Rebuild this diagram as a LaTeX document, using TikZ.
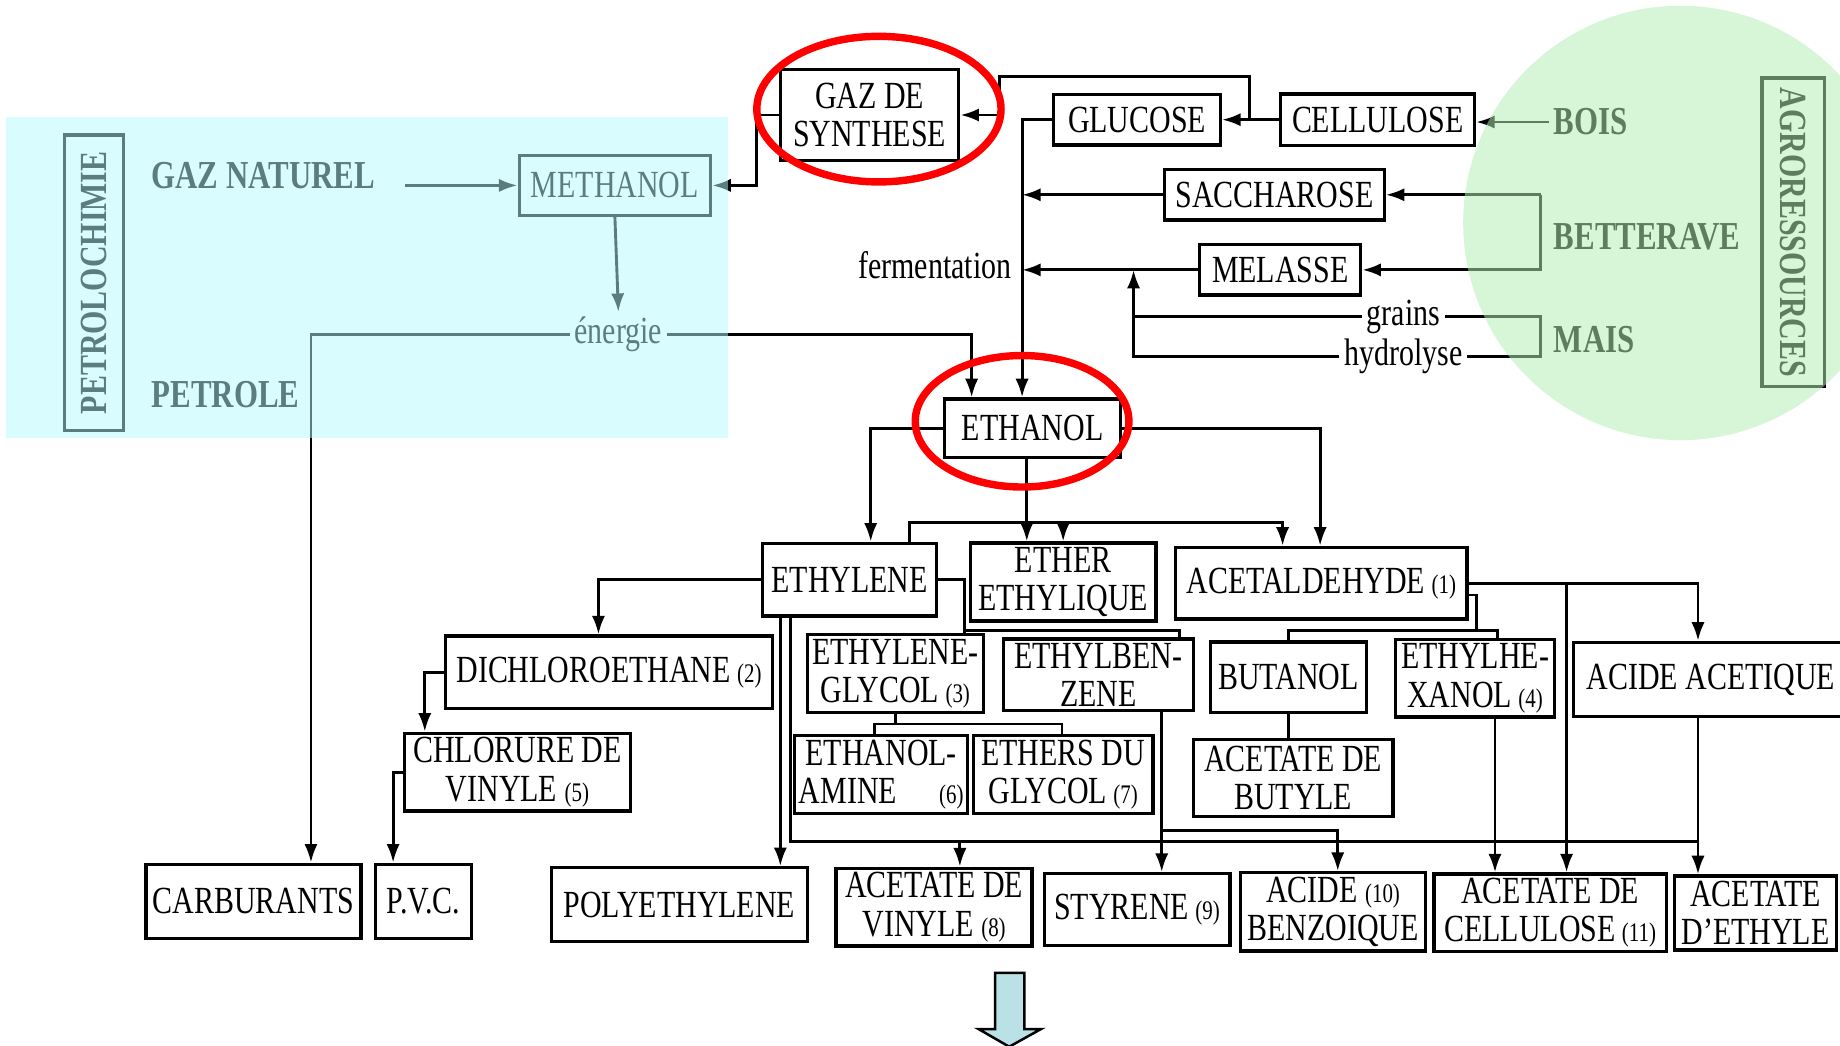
\documentclass[tikz,border=0pt]{standalone}
\usepackage{fontspec}
\setmainfont{Liberation Serif}[FakeStretch=0.78]
\usetikzlibrary{arrows.meta}
\definecolor{petrofill}{RGB}{180,250,255}
\definecolor{agrofill}{RGB}{179,236,179}
\definecolor{arrowblue}{RGB}{185,225,230}
\newcommand{\refnum}[1]{{\fontsize{6.5}{7}\selectfont(#1)}}
\begin{document}
\begin{tikzpicture}[x=0.01cm, y=-0.01cm,
    cbox/.style={draw, line width=0.8pt, align=center, inner sep=1pt, font=\fontsize{9.3}{9.3}\selectfont},
    txt/.style={inner sep=1pt, font=\fontsize{9.3}{9.3}\selectfont},
    srctag/.style={inner sep=1pt, font=\fontsize{9.6}{9.6}\selectfont\bfseries},
    arr/.style={line width=0.7pt, -{Latex[length=4.5pt,width=3.2pt]}},
    link/.style={line width=0.7pt}]
    \useasboundingbox (0,0) rectangle (1568,891);

    % sources
    \node[cbox, rotate=90, minimum width=2.52cm, minimum height=0.5cm] (petro) at (80,241) {\bfseries PETROLOCHIMIE};
    \node[cbox, rotate=-90, minimum width=2.63cm, minimum height=0.53cm] (agro) at (1528,198) {\bfseries AGRORESSOURCES};
    \node[srctag, anchor=west] (gaznat) at (125,150) {GAZ NATUREL};
    \node[srctag, anchor=west] (petrole) at (125,336) {PETROLE};
    \node[srctag, anchor=west] (bois) at (1320,104) {BOIS};
    \node[srctag, anchor=west] (betterave) at (1320,202) {BETTERAVE};
    \node[srctag, anchor=west] (mais) at (1320,289) {MAIS};
    \coordinate (gn) at (345,158);

    % top row
    \node[cbox, minimum width=1.52cm, minimum height=0.77cm] (gds) at (741,98) {GAZ DE\\SYNTHESE};
    \node[cbox, minimum width=1.63cm, minimum height=0.51cm] (methanol) at (524,158) {METHANOL};
    \node[cbox, minimum width=1.42cm, minimum height=0.43cm] (glucose) at (969,102) {GLUCOSE};
    \node[cbox, minimum width=1.65cm, minimum height=0.44cm] (cellulose) at (1174,102) {CELLULOSE};
    \node[cbox, minimum width=1.87cm, minimum height=0.43cm] (saccharose) at (1086,166) {SACCHAROSE};
    \node[cbox, minimum width=1.37cm, minimum height=0.43cm] (melasse) at (1091,230) {MELASSE};
    \node[txt] (energie) at (527,285) {énergie};
    \node[txt, anchor=east] (ferment) at (866,226) {fermentation};
    \node[txt] (grains) at (1196,270) {grains};
    \node[txt] (hydrolyse) at (1196,304) {hydrolyse};
    \node[cbox, minimum width=1.5cm, minimum height=0.5cm] (ethanol) at (880,365) {ETHANOL};

    % first products
    \node[cbox, minimum width=1.48cm, minimum height=0.62cm] (ethylene) at (724,494) {ETHYLENE};
    \node[cbox, minimum width=1.58cm, minimum height=0.62cm] (ether) at (906,496) {ETHER\\ETHYLIQUE};
    \node[cbox, minimum width=2.48cm, minimum height=0.61cm] (acetal) at (1126,497) {ACETALDEHYDE\,\refnum{1}};

    % second products
    \node[cbox, minimum width=2.78cm, minimum height=0.62cm] (dichloro) at (519,573) {DICHLOROETHANE\,\refnum{2}};
    \node[cbox, minimum width=1.5cm, minimum height=0.61cm] (glycol) at (763,574) {ETHYLENE-\\GLYCOL\,\refnum{3}};
    \node[cbox, minimum width=1.62cm, minimum height=0.61cm] (ethylbenz) at (936,575) {ETHYLBEN-\\ZENE};
    \node[cbox, minimum width=1.33cm, minimum height=0.6cm] (butanol) at (1098,577) {BUTANOL};
    \node[cbox, minimum width=1.35cm, minimum height=0.61cm] (ethylhex) at (1257,578) {ETHYLHE-\\XANOL\,\refnum{4}};
    \node[cbox, minimum width=2.34cm, minimum height=0.63cm] (acideacet) at (1458,579) {ACIDE ACETIQUE};

    % third products
    \node[cbox, minimum width=1.92cm, minimum height=0.62cm] (chlorure) at (441,658) {CHLORURE DE\\VINYLE \refnum{5}};
    \node[cbox, minimum width=1.42cm, minimum height=0.64cm] (ethanolamine) at (751,660) {ETHANOL-\\AMINE\hspace{1.1em}\refnum{6}};
    \node[cbox, minimum width=1.53cm, minimum height=0.65cm] (ethersglycol) at (906,660) {ETHERS DU\\GLYCOL\,\refnum{7}};
    \node[cbox, minimum width=1.7cm, minimum height=0.66cm] (acetbutyle) at (1102,663) {ACETATE DE\\BUTYLE};

    % end products
    \node[cbox, minimum width=1.83cm, minimum height=0.63cm] (carburants) at (216,768) {CARBURANTS};
    \node[cbox, minimum width=0.82cm, minimum height=0.63cm] (pvc) at (361,768) {P.V.C.};
    \node[cbox, minimum width=2.18cm, minimum height=0.63cm] (polyeth) at (579,771) {POLYETHYLENE};
    \node[cbox, minimum width=1.67cm, minimum height=0.63cm] (acetvinyle) at (796,773) {ACETATE DE\\VINYLE \refnum{8}};
    \node[cbox, minimum width=1.58cm, minimum height=0.61cm] (styrene) at (969,775) {STYRENE\,\refnum{9}};
    \node[cbox, minimum width=1.58cm, minimum height=0.62cm] (benzoique) at (1136,777) {ACIDE \refnum{10}\\BENZOIQUE};
    \node[cbox, minimum width=1.98cm, minimum height=0.62cm] (acetcell) at (1321,778) {ACETATE DE\\CELLULOSE\,\refnum{11}};
    \node[cbox, minimum width=1.38cm, minimum height=0.63cm] (acetethyle) at (1496,778) {ACETATE\\D'ETHYLE};

    % petrochimie links
    \draw[arr] (gn) -- (methanol.west);
    \draw[arr] (methanol.south) -- (energie.north);
    \draw[arr] (energie.west) -| (265,0 |- carburants.north);
    \draw[arr] (energie.east) -| (828,0 |- ethanol.north);
    \draw[arr] (gds.west) -| (645,0 |- methanol.east) -- (methanol.east);

    % agro links
    \draw[arr] (cellulose.west) -- (glucose.east);
    \draw[arr] (cellulose.west) -| (1065,65) -| (852,0 |- gds.east) -- (gds.east);
    \draw[arr] (bois.west) -- (bois.west -| cellulose.east);
    \draw[arr] (1313,0 |- saccharose.east) -- (saccharose.east);
    \draw[arr] (1313,0 |- saccharose.east) -- (1313,0 |- melasse.east) -- (melasse.east);
    \draw[link] (grains.east) -| (1313,0 |- hydrolyse.east) -- (hydrolyse.east);
    \draw[arr] (grains.west) -| (966,0 |- melasse.west);
    \draw[link] (hydrolyse.west) -| (966,0 |- grains.west);
    \draw[arr] (glucose.west) -| (871,0 |- ethanol.north);
    \draw[arr] (saccharose.west) -- (871,0 |- saccharose.west);
    \draw[arr] (melasse.west) -- (871,0 |- melasse.west);

    % from ethanol
    \draw[arr] (ethanol.west) -| (742,0 |- ethylene.north);
    \draw[arr] (ethanol.east) -| (1125,0 |- acetal.north);
    \draw[arr] (875,0 |- ethanol.south) -- (875,0 |- ether.north);
    \draw[arr] (775,0 |- ethylene.north) |- (1093,445) -- (1093,0 |- acetal.north);
    \draw[arr] (906,445) -- (ether.north);

    % from ethylene
    \draw[arr] (ethylene.west) -| (510,0 |- dichloro.north);
    \draw[link] (ethylene.east) -| (822,537) -| (1005,0 |- ethylbenz.north);
    \draw[link] (822,537) -- (822,0 |- glycol.north);
    \draw[arr] (dichloro.west) -| (362,0 |- chlorure.north);
    \draw[arr] (chlorure.west) -| (335,0 |- pvc.north);
    \draw[link] (glycol.south) |- (745,617) -- (745,0 |- ethanolamine.north);
    \draw[link] (glycol.south) |- (905,617) -- (905,0 |- ethersglycol.north);
    \draw[arr] (665,0 |- ethylene.south) -- (665,0 |- polyeth.north);
    \draw[link] (674,0 |- ethylene.south) |- (1447,717);
    \draw[arr] (818,717) -- (818,0 |- acetvinyle.north);
    \draw[arr] (990,0 |- ethylbenz.south) -- (990,0 |- styrene.north);
    \draw[arr] (990,708) -| (1140,0 |- benzoique.north);

    % from acetaldehyde
    \draw[link] (butanol.south) -- (butanol.south |- acetbutyle.north);
    \draw[link] (acetal.east) ++(0,10) -| (1258,537) -| (butanol.north);
    \draw[link] (1258,537) -| (1276,0 |- ethylhex.north);
    \draw[arr] (acetal.east) -| (1447,0 |- acideacet.north);
    \draw[arr] (1335,0 |- acetal.east) -- (1335,0 |- acetcell.north);
    \draw[arr] (1274,0 |- ethylhex.south) -- (1274,0 |- acetcell.north);
    \draw[arr] (1447,0 |- acideacet.south) -- (1447,0 |- acetethyle.north);

    % overlays
    \fill[petrofill, fill opacity=0.5] (5,100) rectangle (620,373);
    \fill[agrofill, fill opacity=0.53] (1432,190) circle [radius=1.85cm];
    \draw[red, line width=1.8pt] (749,93) ellipse [x radius=1.04cm, y radius=0.62cm];
    \draw[red, line width=1.8pt] (871,359) ellipse [x radius=0.91cm, y radius=0.56cm];

    % big arrow
    \draw[fill=arrowblue, line width=0.6pt] (848,829) -- (873,829) -- (873,877) -- (887,877)
        -- (860,892) -- (834,877) -- (848,877) -- cycle;
\end{tikzpicture}
\end{document}
